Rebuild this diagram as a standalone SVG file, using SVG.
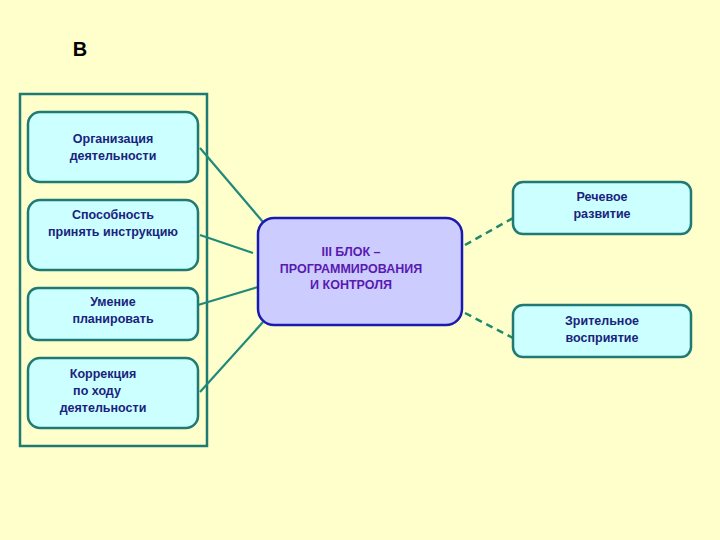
<svg xmlns="http://www.w3.org/2000/svg" width="720" height="540" viewBox="0 0 720 540">
<style>
.b{fill:#ccffff;stroke:#1f7a73;stroke-width:2.5}
.t{font-family:"Liberation Sans",Arial,sans-serif;font-size:12.5px;font-weight:bold;fill:#1a237e;text-anchor:middle}
.c{stroke:#1f8a7a;stroke-width:2.2;fill:none}
.d{stroke:#1f8a6a;stroke-width:2.5;fill:none;stroke-dasharray:7,5}
</style>
<rect width="720" height="540" fill="#ffffcc"/>
<text x="80" y="56" font-family="Liberation Sans,Arial,sans-serif" font-size="20" font-weight="bold" fill="#000" text-anchor="middle">В</text>
<rect x="20" y="94" width="187" height="352" fill="none" stroke="#1f7a73" stroke-width="2.5"/>
<g id="connectors">
<line class="c" x1="200" y1="148" x2="263" y2="222"/>
<line class="c" x1="200" y1="235" x2="253" y2="253"/>
<line class="c" x1="198" y1="305" x2="258" y2="287"/>
<line class="c" x1="200" y1="392" x2="263" y2="322"/>
<line class="d" x1="465" y1="245" x2="513" y2="218"/>
<line class="d" x1="465" y1="313" x2="513" y2="338"/>
</g>
<g id="n1"><rect class="b" x="28" y="112" width="170" height="70" rx="12"/><text class="t" x="113" y="143">Организация</text><text class="t" x="113" y="160">деятельности</text></g>
<g id="n2"><rect class="b" x="28" y="200" width="170" height="70" rx="12"/><text class="t" x="113" y="219">Способность</text><text class="t" x="113" y="236">принять инструкцию</text></g>
<g id="n3"><rect class="b" x="28" y="288" width="170" height="52" rx="10"/><text class="t" x="113" y="306">Умение</text><text class="t" x="113" y="323">планировать</text></g>
<g id="n4"><rect class="b" x="28" y="358" width="170" height="70" rx="12"/><text class="t" x="103" y="378">Коррекция</text><text class="t" x="97" y="395">по ходу</text><text class="t" x="103" y="412">деятельности</text></g>
<g id="center"><rect x="258" y="218" width="204" height="107" rx="16" fill="#ccccff" stroke="#1a1ab0" stroke-width="2.5"/><text class="t" x="351" y="256" style="fill:#5a1ab0">III БЛОК –</text><text class="t" x="351" y="273" style="fill:#5a1ab0">ПРОГРАММИРОВАНИЯ</text><text class="t" x="351" y="289" style="fill:#5a1ab0">И КОНТРОЛЯ</text></g>
<g id="r1"><rect class="b" x="513" y="182" width="178" height="52" rx="10"/><text class="t" x="602" y="201">Речевое</text><text class="t" x="602" y="218">развитие</text></g>
<g id="r2"><rect class="b" x="513" y="305" width="178" height="52" rx="10"/><text class="t" x="602" y="325">Зрительное</text><text class="t" x="602" y="342">восприятие</text></g>
</svg>
